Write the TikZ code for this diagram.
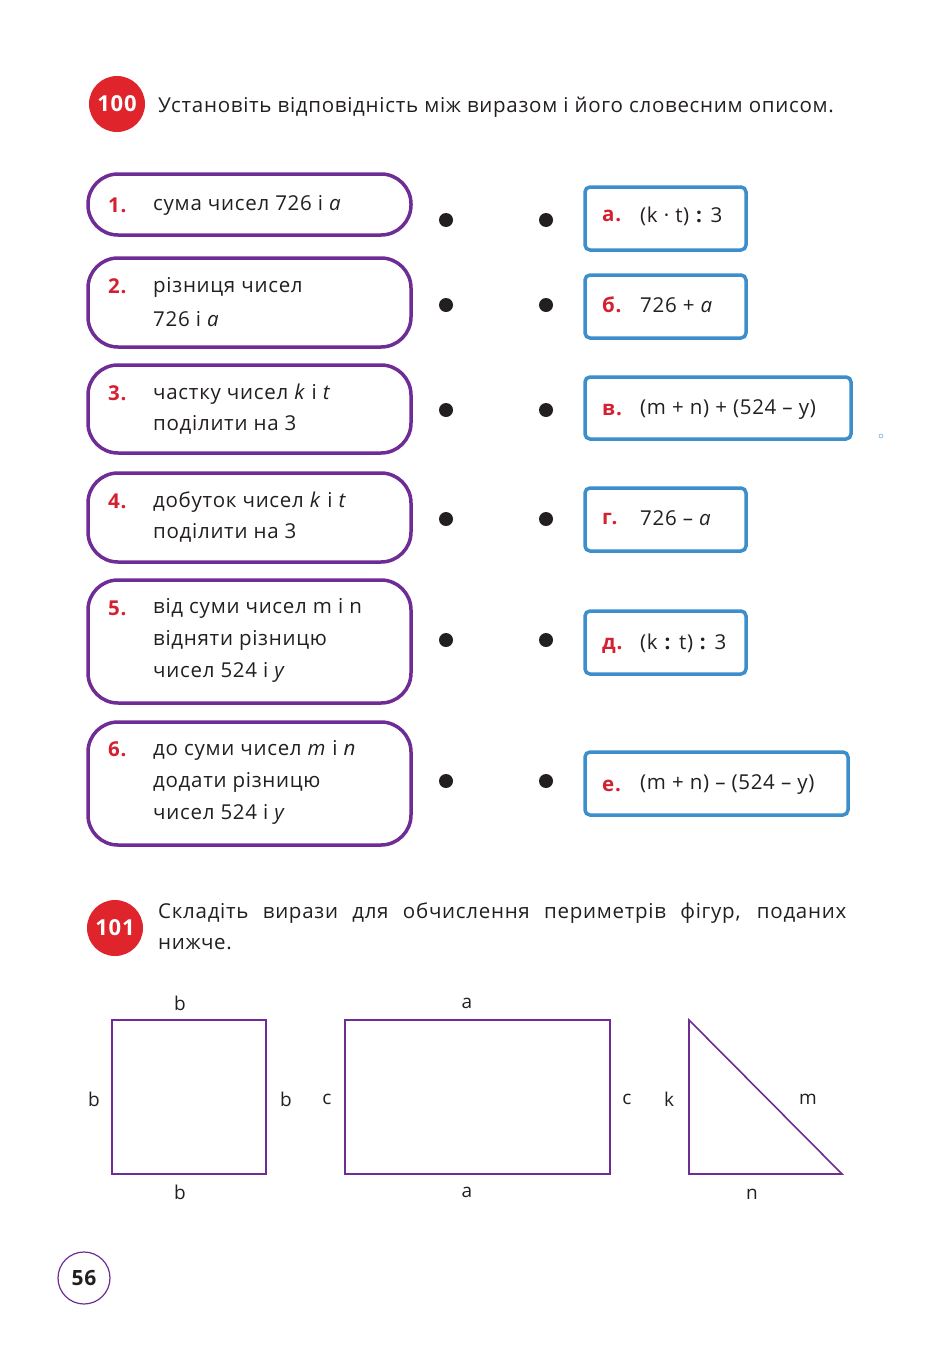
\documentclass[tikz,border=0pt]{standalone}
\usepackage{fontspec}
\setmainfont{Open Sans}[LetterSpace=3.5]
\usepackage{xcolor}
\definecolor{badgered}{HTML}{E0242C}
\definecolor{numred}{HTML}{D42030}
\definecolor{boxpurple}{HTML}{6E2C94}
\definecolor{boxblue}{HTML}{3D8FCB}
\definecolor{textdark}{HTML}{231F20}
\tikzset{
  body/.style={text=textdark,font=\fontsize{20.5}{31}\selectfont,anchor=west,inner sep=0pt},
  num/.style={text=numred,font=\fontsize{20.5}{31}\selectfont\bfseries,anchor=west,inner sep=0pt},
  pill/.style={draw=boxpurple,line width=3.5pt,rounded corners=30pt},
  card/.style={draw=boxblue,line width=3.5pt,rounded corners=5pt,fill=white},
  dot/.style={fill=textdark},
  badge/.style={circle,fill=badgered,text=white,font=\fontsize{22}{22}\selectfont\bfseries,minimum size=56pt,inner sep=0pt},
  side/.style={text=textdark,font=\fontsize{19}{19}\selectfont,inner sep=0pt},
  figure/.style={draw=boxpurple,line width=1.6pt}
}
\begin{document}
\begin{tikzpicture}[x=1pt,y=-1pt]
    \useasboundingbox (0,0) rectangle (935,1349);
    \fill[white] (0,0) rectangle (935,1349);

    % task 100
    \node[badge] (b100) at (117,104) {100};
    \node[body] (t100) at (158,107) {Установіть відповідність між виразом і його словесним описом.};

    % left column
    \draw[pill] (88,174) rectangle (411,235);
    \node[num] (n1) at (108,205) {1.};
    \node[body] (d1) at (153,205) {сума чисел 726 і \textit{a}};

    \draw[pill] (88,258) rectangle (411,347);
    \node[num] (n2) at (108,286) {2.};
    \node[body] (d2a) at (153,287) {різниця чисел};
    \node[body] (d2b) at (153,319) {726 і \textit{a}};

    \draw[pill] (88,365) rectangle (411,453);
    \node[num] (n3) at (108,393) {3.};
    \node[body] (d3a) at (153,394) {частку чисел \textit{k} і \textit{t}};
    \node[body] (d3b) at (153,425) {поділити на 3};

    \draw[pill] (88,473) rectangle (411,562);
    \node[num] (n4) at (108,501) {4.};
    \node[body] (d4a) at (153,502) {добуток чисел \textit{k} і \textit{t}};
    \node[body] (d4b) at (153,533) {поділити на 3};

    \draw[pill] (88,580) rectangle (411,703);
    \node[num] (n5) at (108,608) {5.};
    \node[body] (d5a) at (153,608) {від суми чисел m і n};
    \node[body] (d5b) at (153,640) {відняти різницю};
    \node[body] (d5c) at (153,672) {чисел 524 і \textit{y}};

    \draw[pill] (88,722) rectangle (411,845);
    \node[num] (n6) at (108,749) {6.};
    \node[body] (d6a) at (153,750) {до суми чисел \textit{m} і \textit{n}};
    \node[body] (d6b) at (153,782) {додати різницю};
    \node[body] (d6c) at (153,814) {чисел 524 і \textit{y}};

    % dots
    \foreach \y in {220,305,410,519,640,781} {
      \fill[dot] (446,\y) circle (7);
      \fill[dot] (546,\y) circle (7);
    }

    % right column
    \draw[card] (585,187) rectangle (746,250);
    \node[num] (la) at (602,216) {а.};
    \node[body] (ea) at (640,216) {(k · t) \textbf{:} 3};

    \draw[card] (585,275) rectangle (746,338);
    \node[num] (lb) at (602,305) {б.};
    \node[body] (eb) at (640,305) {726 + \textit{a}};

    \draw[card] (585,377) rectangle (851,439);
    \node[num] (lv) at (602,410) {в.};
    \node[body] (ev) at (640,410) {(m + n) + (524 – y)};

    \draw[card] (585,488) rectangle (746,551);
    \node[num] (lg) at (602,519) {г.};
    \node[body] (eg) at (640,518) {726 – \textit{a}};

    \draw[card] (585,611) rectangle (746,674);
    \node[num] (ld) at (602,646) {д.};
    \node[body] (ed) at (640,643) {(k \textbf{:} t) \textbf{:} 3};

    \draw[card] (585,752) rectangle (848,815);
    \node[num] (le) at (602,786) {е.};
    \node[body] (ee) at (640,785) {(m + n) – (524 – y)};

    \draw[boxblue!70,line width=0.6pt] (881,436) circle (2);

    % task 101
    \node[badge] (b101) at (115,928) {101};
    \node[body,anchor=north west,text width=688pt,align=justify] (t101) at (158,903)
      {Складіть вирази для обчислення периметрів фігур, поданих\linebreak нижче.};

    % figures
    \draw[figure] (112,1020) rectangle (266,1174);
    \node[side] (sq1) at (180,1003) {b};
    \node[side] (sq2) at (94,1099) {b};
    \node[side] (sq3) at (286,1099) {b};
    \node[side] (sq4) at (180,1192) {b};

    \draw[figure] (345,1020) rectangle (610,1174);
    \node[side] (re1) at (467,1003) {a};
    \node[side] (re2) at (327,1099) {c};
    \node[side] (re3) at (627,1099) {c};
    \node[side] (re4) at (467,1192) {a};

    \draw[figure] (689,1020) -- (689,1174) -- (842,1174) -- cycle;
    \node[side] (tr1) at (669,1099) {k};
    \node[side] (tr2) at (808,1099) {m};
    \node[side] (tr3) at (752,1194) {n};

    % page number
    \node[circle,draw=boxpurple,line width=1.2pt,minimum size=52pt,inner sep=0pt,
          font=\fontsize{21}{21}\selectfont\bfseries,text=textdark] (page) at (84,1278) {56};
  \end{tikzpicture}
\end{document}
